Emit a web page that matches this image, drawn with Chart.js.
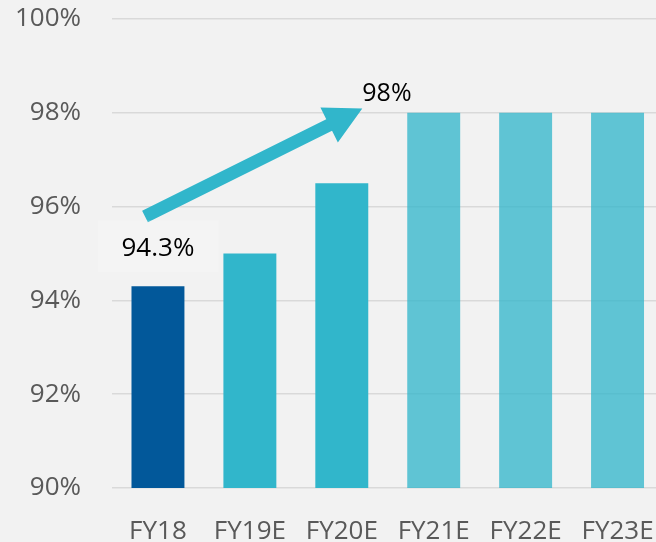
<!DOCTYPE html>
<html>
<head>
<meta charset="utf-8">
<script src="https://cdn.jsdelivr.net/npm/chart.js@4/dist/chart.umd.min.js"></script>
<style>
  html, body { margin: 0; padding: 0; background: #F2F2F2; overflow: hidden; }
  #wrap { width: 680px; height: 542px; position: relative; }
</style>
</head>
<body>
<div id="wrap"><canvas id="myChart"></canvas></div>
<script>
// Fiscal years and the share for each (percent)
const categories = ['FY18', 'FY19E', 'FY20E', 'FY21E', 'FY22E', 'FY23E'];
const shares = [94.3, 95, 96.5, 98, 98, 98];
const barColors = ['#02589A', '#31B6CB', '#31B6CB', 'rgba(49,182,203,0.76)', 'rgba(49,182,203,0.76)', 'rgba(49,182,203,0.76)'];
const yTicks = [90, 92, 94, 96, 98, 100];

const FONT = '"Open Sans", "DejaVu Sans", sans-serif';

// growth arrow plus the two callout labels
const arrowPlugin = {
    id: 'growthArrow',
    afterDatasetsDraw(chart) {
        const ctx = chart.ctx;
        const x = chart.scales.x;
        const y = chart.scales.y;
        const step = x.getPixelForValue(1) - x.getPixelForValue(0);

        const x0 = x.getPixelForValue(0) - 0.141 * step;
        const y0 = y.getPixelForValue(95.79);
        const x1 = x.getPixelForValue(2) + 0.223 * step;
        const y1 = y.getPixelForValue(98.09);

        const len = Math.hypot(x1 - x0, y1 - y0);
        const ang = Math.atan2(y1 - y0, x1 - x0);
        const headLen = 37, headHalf = 19.6, shaft = 6.5;

        ctx.save();
        ctx.translate(x0, y0);
        ctx.rotate(ang);
        ctx.fillStyle = '#31B6CB';
        ctx.beginPath();
        ctx.moveTo(0, -shaft);
        ctx.lineTo(len - headLen, -shaft);
        ctx.lineTo(len - headLen, -headHalf);
        ctx.lineTo(len, 0);
        ctx.lineTo(len - headLen, headHalf);
        ctx.lineTo(len - headLen, shaft);
        ctx.lineTo(0, shaft);
        ctx.closePath();
        ctx.fill();
        ctx.restore();

        // FY18 actual value label with its light box
        const bx = x.getPixelForValue(0);
        const by = y.getPixelForValue(shares[0]);
        ctx.save();
        ctx.fillStyle = 'rgba(255,255,255,0.15)';
        ctx.fillRect(bx - 60, by - 66, 121, 52);
        ctx.fillStyle = '#000000';
        ctx.font = '26px ' + FONT;
        ctx.textAlign = 'center';
        ctx.textBaseline = 'middle';
        ctx.fillText(shares[0].toFixed(1) + '%', bx, by - 38);

        // target label at the arrow tip
        ctx.font = '25px ' + FONT;
        ctx.textAlign = 'left';
        ctx.textBaseline = 'alphabetic';
        ctx.fillText(Math.max(...shares) + '%', x1, y1 - 8);
        ctx.restore();
    }
};

const ctx = document.getElementById('myChart').getContext('2d');

window.myChart = new Chart(ctx, {
    type: 'bar',
    data: {
        labels: categories,
        datasets: [{
            data: shares,
            backgroundColor: barColors,
            borderWidth: 0,
            categoryPercentage: 1,
            barPercentage: 0.576
        }]
    },
    options: {
        responsive: true,
        maintainAspectRatio: false,
        animation: false,
        layout: { padding: { top: 19, right: 16.5, bottom: 0, left: 0 } },
        plugins: {
            legend: { display: false },
            tooltip: { enabled: false }
        },
        scales: {
            x: {
                grid: { display: false },
                border: { display: false },
                ticks: {
                    color: '#595959',
                    font: { family: FONT, size: 26 },
                    padding: 20,
                    maxRotation: 0,
                    autoSkip: false
                },
                afterFit(scale) { scale.height = 54; }
            },
            y: {
                min: 90,
                max: 100,
                afterBuildTicks(scale) {
                    scale.ticks = yTicks.map(v => ({ value: v }));
                },
                grid: { color: '#D9D9D9', lineWidth: 1.6, drawTicks: false },
                border: { display: false },
                ticks: {
                    color: '#595959',
                    font: { family: FONT, size: 26 },
                    padding: 31,
                    callback: v => v + '%'
                },
                afterFit(scale) {
                    scale.width = 112;
                    scale.paddingTop = 0;
                    scale.paddingBottom = 0;
                }
            }
        }
    },
    plugins: [arrowPlugin]
});
</script>
</body>
</html>
